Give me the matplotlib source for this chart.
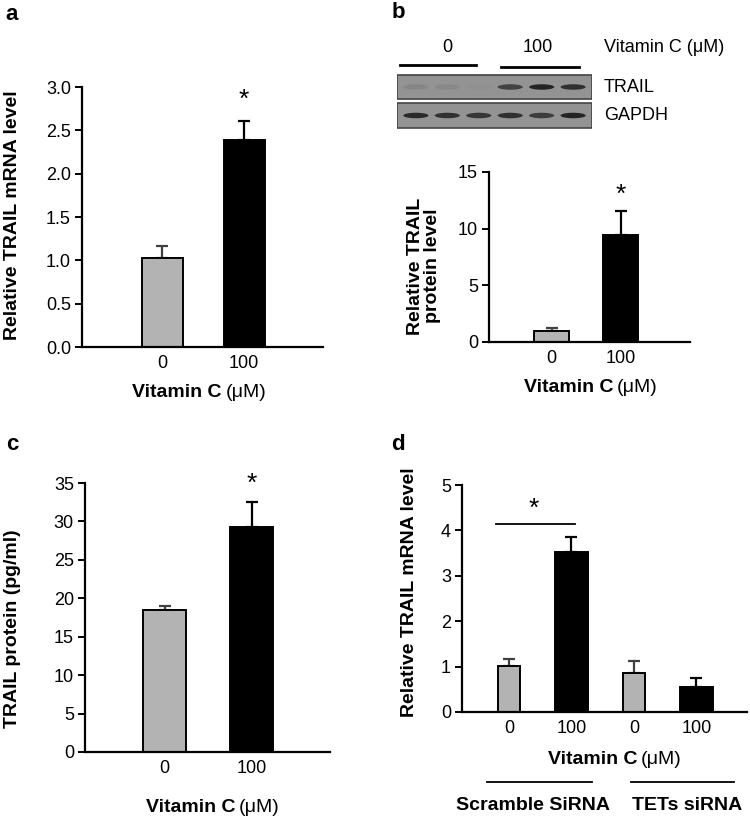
import matplotlib
matplotlib.use("Agg")
import matplotlib.pyplot as plt
from matplotlib.patches import Rectangle, Ellipse

plt.rcParams['font.family'] = ['Liberation Sans', 'DejaVu Sans']

W, H = 750, 825

# ---- data ----
vitc_labels = ['0', '100']
a_means = [1.03, 2.39]
a_err = [0.14, 0.22]
a_yticks = [0.0, 0.5, 1.0, 1.5, 2.0, 2.5, 3.0]

b_means = [1.0, 9.45]
b_err = [0.2, 2.1]
b_yticks = [0, 5, 10, 15]
blot_lanes = ['0', '0', '0', '100', '100', '100']
trail_bands = [0.12, 0.10, 0.03, 0.70, 0.95, 0.85]
gapdh_bands = [0.90, 0.85, 0.80, 0.85, 0.75, 0.95]

c_means = [18.5, 29.3]
c_err = [0.5, 3.2]
c_yticks = [0, 5, 10, 15, 20, 25, 30, 35]

d_labels = ['0', '100', '0', '100']
d_means = [1.01, 3.53, 0.85, 0.55]
d_err = [0.15, 0.32, 0.28, 0.20]
d_yticks = [0, 1, 2, 3, 4, 5]
d_groups = ['Scramble SiRNA', 'TETs siRNA']

GRAY = '#b3b3b3'
colors2 = [GRAY, 'black']
colors4 = [GRAY, 'black', GRAY, 'black']
TICK_FS = 13
LAB_FS = 14

fig = plt.figure(figsize=(W / 100, H / 100), dpi=100)


def px_axes(left, top, right, bottom):
    return fig.add_axes([left / W, 1 - bottom / H, (right - left) / W, (bottom - top) / H])


def ftext(x, y, s, **kw):
    return fig.text(x / W, 1 - y / H, s, **kw)


def style_axes(ax, yticks, fmt):
    for s in ['top', 'right']:
        ax.spines[s].set_visible(False)
    for s in ['left', 'bottom']:
        ax.spines[s].set_linewidth(1.6)
    ax.set_yticks(yticks)
    ax.set_yticklabels([fmt.format(v) for v in yticks], fontsize=TICK_FS)
    ax.set_ylim(yticks[0], yticks[-1])
    ax.tick_params(axis='y', direction='out', length=5, width=1.4, pad=3)
    ax.tick_params(axis='x', length=0, pad=6, labelsize=TICK_FS)


def draw_bars(ax, x, means, errs, cols, widths):
    for xi, m, e, c, w in zip(x, means, errs, cols, widths):
        ax.bar(xi, m, width=w, color=c, edgecolor='black', linewidth=1.4, zorder=2)
        ecol = '#404040' if c != 'black' else 'black'
        ax.errorbar(xi, m, yerr=[[0], [e]], fmt='none', ecolor=ecol,
                    elinewidth=1.6, capsize=4.5, capthick=1.6, zorder=1)


def vitc_label(xsplit, y):
    ftext(xsplit - 2, y, 'Vitamin C', ha='right', va='center', fontsize=LAB_FS, fontweight='bold')
    ftext(xsplit + 2, y, '(\u03bcM)', ha='left', va='center', fontsize=LAB_FS)


def ylabel(x, y, s):
    ftext(x, y, s, ha='center', va='center', rotation=90, fontsize=LAB_FS,
          fontweight='bold', linespacing=1.0)


# ---- panel a ----
ax = px_axes(82, 87, 323, 347)
draw_bars(ax, [0, 1], a_means, a_err, colors2, [0.5, 0.5])
style_axes(ax, a_yticks, '{:.1f}')
ax.set_xlim(-0.976, 1.963)
ax.set_xticks([0, 1])
ax.set_xticklabels(vitc_labels)
ax.text(1, a_means[1] + a_err[1] + 0.1, '*', ha='center', va='bottom', fontsize=19)
ylabel(13, 215, 'Relative TRAIL mRNA level')
vitc_label(224, 393)

# ---- panel b blot ----
bx = px_axes(397, 30, 592, 129)
bx.set_xlim(-0.6, 5.6)
bx.set_ylim(129, 30)
bx.axis('off')
for y0, y1, bands in [(75, 99, trail_bands), (103, 128, gapdh_bands)]:
    bx.add_patch(Rectangle((-0.6, y0), 6.2, y1 - y0, facecolor='#939393',
                           edgecolor='#444444', linewidth=1.2))
    yc = (y0 + y1) / 2
    for i, inten in enumerate(bands):
        g = 0.58 * (1 - inten) + 0.12 * inten
        bx.add_patch(Ellipse((i, yc), 0.8, 5.5, facecolor=(g, g, g), edgecolor='none'))
bx.plot([-0.5, 1.9], [65, 65], color='black', lw=2, clip_on=False)
bx.plot([2.7, 5.2], [67, 67], color='black', lw=2, clip_on=False)
ftext(447, 48, '0', ha='center', va='center', fontsize=TICK_FS)
ftext(538, 48, '100', ha='center', va='center', fontsize=TICK_FS)
ftext(604, 48, 'Vitamin C (\u03bcM)', ha='left', va='center', fontsize=TICK_FS)
ftext(604, 87, 'TRAIL', ha='left', va='center', fontsize=TICK_FS)
ftext(604, 115, 'GAPDH', ha='left', va='center', fontsize=TICK_FS)

# ---- panel b chart ----
ax = px_axes(489, 172, 690, 342)
draw_bars(ax, [0, 1], b_means, b_err, colors2, [0.51, 0.51])
style_axes(ax, b_yticks, '{}')
ax.set_xlim(-0.906, 2.0)
ax.set_xticks([0, 1])
ax.set_xticklabels(vitc_labels)
ax.text(1, b_means[1] + b_err[1] + 0.4, '*', ha='center', va='bottom', fontsize=19)
ylabel(424, 266, 'Relative TRAIL\nprotein level')
vitc_label(615, 388)

# ---- panel c ----
ax = px_axes(85, 483, 330, 752)
draw_bars(ax, [0, 1], c_means, c_err, colors2, [0.49, 0.49])
style_axes(ax, c_yticks, '{}')
ax.set_xlim(-0.914, 1.90)
ax.set_xticks([0, 1])
ax.set_xticklabels(vitc_labels)
ax.text(1, c_means[1] + c_err[1] + 0.8, '*', ha='center', va='bottom', fontsize=19)
ylabel(13, 629, 'TRAIL protein (pg/ml)')
vitc_label(237, 808)

# ---- panel d ----
ax = px_axes(462, 485, 747, 712)
xd = [0, 1, 2, 3]
draw_bars(ax, xd, d_means, d_err, colors4, [0.36, 0.52, 0.34, 0.52])
style_axes(ax, d_yticks, '{}')
ax.set_xlim(-0.75, 3.81)
ax.set_xticks(xd)
ax.set_xticklabels(d_labels)
ax.plot([-0.2, 1.05], [4.15, 4.15], color='black', lw=1.3)
ax.text(0.4, 4.2, '*', ha='center', va='bottom', fontsize=19)
ylabel(410, 592, 'Relative TRAIL mRNA level')
vitc_label(639, 759)
ax.plot([-0.35, 1.33], [-1.55, -1.55], color='black', lw=1.3, clip_on=False)
ax.plot([1.95, 3.6], [-1.55, -1.55], color='black', lw=1.3, clip_on=False)
ax.text(0.38, -1.88, d_groups[0], ha='center', va='top', fontsize=LAB_FS, fontweight='bold')
ax.text(2.85, -1.88, d_groups[1], ha='center', va='top', fontsize=LAB_FS, fontweight='bold')

# panel letters
for lab, x, y in [('a', 12, 14), ('b', 398, 12), ('c', 12, 445), ('d', 398, 445)]:
    ftext(x, y, lab, ha='center', va='center', fontsize=16, fontweight='bold')

fig.savefig('out.png', dpi=100)
